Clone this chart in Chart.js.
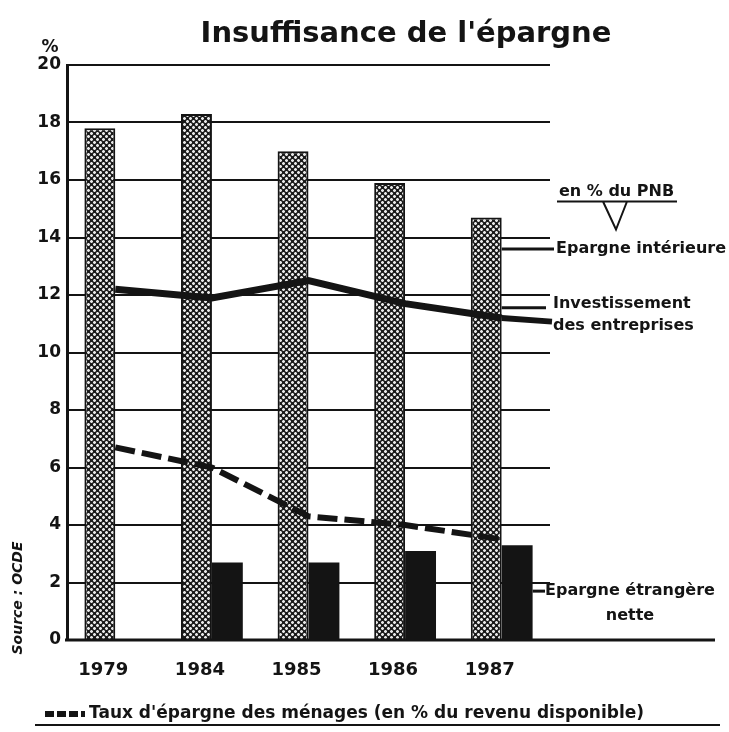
<!DOCTYPE html>
<html>
<head>
<meta charset="utf-8">
<script src="https://cdn.jsdelivr.net/npm/chart.js@4.4.1/dist/chart.umd.min.js"></script>
<style>
  html, body { margin: 0; padding: 0; background: #fff; }
  #wrap { width: 729px; height: 732px; position: relative; }
</style>
</head>
<body>
<div id="wrap"><canvas id="chart" width="729" height="732"></canvas></div>
<script>
// values (% du PNB, ménages in % du revenu disponible)
const years = ['1979', '1984', '1985', '1986', '1987'];
const epargneInterieure = [17.8, 18.3, 17.0, 15.9, 14.7];
const epargneEtrangere = [null, 2.7, 2.7, 3.1, 3.3];
const investissement = [12.2, 11.9, 12.5, 11.7, 11.2];
const tauxMenages = [6.7, 6.0, 4.3, 4.0, 3.5];
const yTicks = [0, 2, 4, 6, 8, 10, 12, 14, 16, 18, 20];

const INK = '#141414';
const BOLD = 'DejaVu Sans';

// stipple used on the scan for the tall bars
function stipple() {
    const c = document.createElement('canvas');
    c.width = 6; c.height = 6;
    const g = c.getContext('2d');
    g.fillStyle = '#1a1a1a';
    g.fillRect(0, 0, 6, 6);
    g.fillStyle = '#e8e8e8';
    [[1, 1], [4, 4]].forEach(([x, y]) => {
        g.fillRect(x, y, 1, 1);
        g.fillRect(x - 1, y, 1, 1);
        g.fillRect(x + 1, y, 1, 1);
        g.fillRect(x, y - 1, 1, 1);
        g.fillRect(x, y + 1, 1, 1);
    });
    g.fillStyle = '#777';
    [[0, 0], [2, 2], [3, 3], [5, 5], [2, 0], [0, 2], [5, 3], [3, 5]].forEach(([x, y]) => g.fillRect(x, y, 1, 1));
    return g.createPattern(c, 'repeat');
}

const decor = {
    id: 'decor',
    afterDraw(chart) {
        const { ctx, chartArea: a, scales } = chart;
        const y = scales.y;
        const gray87 = chart.getDatasetMeta(0).data[4];
        const black87 = chart.getDatasetMeta(1).data[4];
        const grayRight = gray87.x + gray87.width / 2;
        const blackRight = black87.x + black87.width / 2;
        ctx.save();
        ctx.fillStyle = INK;
        ctx.strokeStyle = INK;

        // title
        ctx.font = 'bold 29px ' + BOLD;
        ctx.textAlign = 'center';
        ctx.textBaseline = 'alphabetic';
        ctx.fillText("Insuffisance de l'épargne", 406, 42);

        // % unit
        ctx.font = 'bold 17px ' + BOLD;
        ctx.fillText('%', 50, 52);

        // x axis runs on past the plot
        ctx.lineWidth = 3;
        ctx.beginPath();
        ctx.moveTo(a.left - 2, a.bottom);
        ctx.lineTo(715, a.bottom);
        ctx.stroke();

        // right-hand labels
        ctx.textAlign = 'left';
        ctx.textBaseline = 'middle';
        ctx.font = 'bold 16px ' + BOLD;
        const pnbY = y.getPixelForValue(15.6);
        ctx.fillText('en % du PNB', 559, pnbY);
        ctx.lineWidth = 2;
        ctx.beginPath();
        ctx.moveTo(557, pnbY + 10);
        ctx.lineTo(677, pnbY + 10);
        ctx.moveTo(603, pnbY + 10);
        ctx.lineTo(616, pnbY + 38);
        ctx.lineTo(627, pnbY + 10);
        ctx.stroke();

        const intY = y.getPixelForValue(13.6);
        ctx.fillText('Epargne intérieure', 556, intY);
        ctx.lineWidth = 3;
        ctx.beginPath();
        ctx.moveTo(grayRight, intY);
        ctx.lineTo(554, intY);
        ctx.stroke();

        const invY = y.getPixelForValue(11.7);
        ctx.fillText('Investissement', 553, invY);
        ctx.fillText('des entreprises', 553, invY + 22);
        ctx.beginPath();
        ctx.moveTo(grayRight, invY + 4);
        ctx.lineTo(546, invY + 4);
        ctx.stroke();
        const last = chart.getDatasetMeta(2).data[4];
        ctx.lineWidth = 6;
        ctx.beginPath();
        ctx.moveTo(last.x, last.y);
        ctx.lineTo(552, invY + 18);
        ctx.stroke();

        const etrY = y.getPixelForValue(1.7);
        ctx.fillText('Epargne étrangère', 545, etrY);
        ctx.textAlign = 'center';
        ctx.fillText('nette', 630, etrY + 25);
        ctx.lineWidth = 3;
        ctx.beginPath();
        ctx.moveTo(blackRight, etrY);
        ctx.lineTo(545, etrY);
        ctx.stroke();

        // bottom legend for the dashed series
        const legY = 714;
        ctx.lineWidth = 6;
        ctx.setLineDash([9, 3]);
        ctx.beginPath();
        ctx.moveTo(45, legY);
        ctx.lineTo(85, legY);
        ctx.stroke();
        ctx.setLineDash([]);
        ctx.textAlign = 'left';
        ctx.font = 'bold 17px ' + BOLD;
        ctx.fillText("Taux d'épargne des ménages (en % du revenu disponible)", 89, legY);
        ctx.lineWidth = 2;
        ctx.beginPath();
        ctx.moveTo(35, 725);
        ctx.lineTo(720, 725);
        ctx.stroke();

        // source, written up the left side
        ctx.translate(18, 598);
        ctx.rotate(-Math.PI / 2);
        ctx.textAlign = 'center';
        ctx.font = 'italic bold 14px ' + BOLD;
        ctx.fillText('Source : OCDE', 0, 0);
        ctx.restore();
    }
};

const chart = new Chart(document.getElementById('chart'), {
    type: 'bar',
    data: {
        labels: years,
        datasets: [
            {
                label: 'Epargne intérieure',
                data: epargneInterieure,
                backgroundColor: stipple(),
                borderColor: INK,
                borderWidth: 2,
                order: 2
            },
            {
                label: 'Epargne étrangère nette',
                data: epargneEtrangere,
                backgroundColor: INK,
                borderWidth: 0,
                order: 2
            },
            {
                type: 'line',
                label: 'Investissement des entreprises',
                data: investissement,
                borderColor: INK,
                borderWidth: 7,
                pointRadius: 0,
                tension: 0,
                order: 0
            },
            {
                type: 'line',
                label: "Taux d'épargne des ménages",
                data: tauxMenages,
                borderColor: INK,
                borderWidth: 6,
                borderDash: [20, 7],
                pointRadius: 0,
                tension: 0,
                order: 0
            }
        ]
    },
    options: {
        responsive: false,
        animation: false,
        datasets: {
            bar: { categoryPercentage: 0.64, barPercentage: 1.0 }
        },
        layout: { padding: { top: 65, left: 27, right: 179, bottom: 52 } },
        plugins: {
            legend: { display: false },
            tooltip: { enabled: false }
        },
        scales: {
            x: {
                grid: { display: false },
                border: { display: false },
                ticks: {
                    color: INK,
                    padding: 12,
                    labelOffset: -12,
                    font: { family: BOLD, size: 18, weight: 'bold' }
                },
                afterFit(s) { s.height = 40; }
            },
            y: {
                min: 0,
                max: 20,
                afterBuildTicks(s) { s.ticks = yTicks.map(v => ({ value: v })); },
                grid: { color: INK, lineWidth: 2, drawTicks: false },
                border: { color: INK, width: 3 },
                ticks: {
                    color: INK,
                    padding: 6,
                    font: { family: BOLD, size: 17, weight: 'bold' }
                },
                afterFit(s) { s.width = 40; }
            }
        }
    },
    plugins: [decor]
});
</script>
</body>
</html>
